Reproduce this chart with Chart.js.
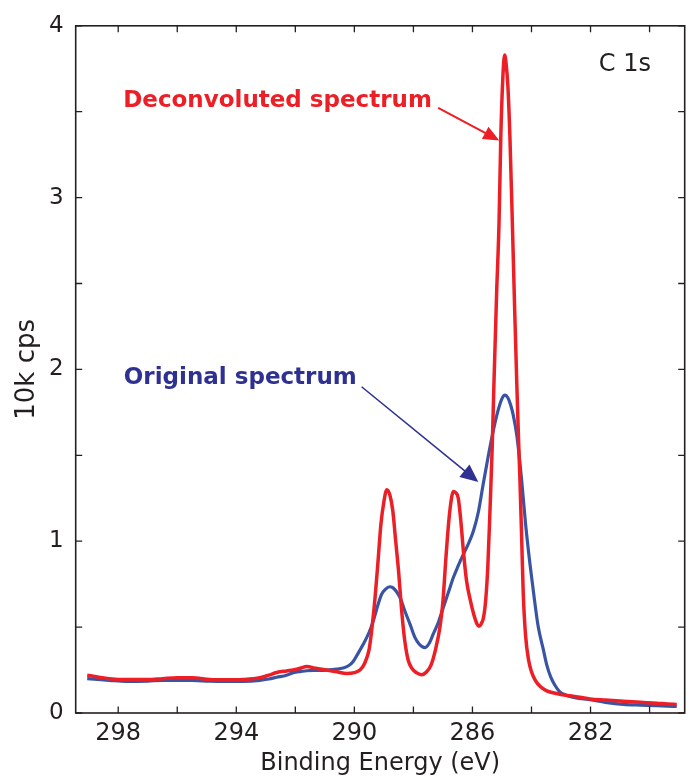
<!DOCTYPE html>
<html><head><meta charset="utf-8">
<script src="https://cdn.jsdelivr.net/npm/chart.js@4.4.1/dist/chart.umd.min.js"></script>
<style>html,body{margin:0;padding:0;background:#fff}#wrap{width:693px;height:780px}</style>
</head><body><div id="wrap"><canvas id="c" width="693" height="780"></canvas></div>
<script>
// ---- data (Binding energy in eV, intensity in 10k cps) ----
const deconvEnergy = [299.05,298.7,298.3,297.7,297.0,296.5,296.0,295.5,294.9,294.3,293.77,293.2,292.9,292.63,292.3,292.07,291.8,291.62,291.3,290.94,290.6,290.26,290.0,289.81,289.65,289.5,289.4,289.3,289.2,289.1,289.0,288.9,288.8,288.7,288.6,288.5,288.4,288.3,288.18,288.05,287.9,287.72,287.55,287.4,287.25,287.1,287.0,286.9,286.8,286.7,286.65,286.58,286.48,286.4,286.3,286.2,286.09,285.95,285.85,285.78,285.7,285.62,285.55,285.48,285.41,285.33,285.27,285.18,285.1,285.04,284.97,284.91,284.86,284.8,284.73,284.64,284.57,284.5,284.44,284.39,284.33,284.28,284.2,284.1,284.0,283.87,283.71,283.5,283.2,283.0,282.7,282.36,282.02,281.5,280.89,280.3,279.76,279.4,279.08];
const deconvCounts = [0.22,0.21,0.2,0.195,0.195,0.2,0.205,0.205,0.195,0.193,0.195,0.205,0.22,0.236,0.245,0.25,0.262,0.27,0.26,0.25,0.24,0.23,0.235,0.25,0.29,0.37,0.5,0.67,0.88,1.1,1.23,1.3,1.27,1.18,1.0,0.82,0.6,0.43,0.31,0.26,0.235,0.223,0.24,0.28,0.37,0.5,0.65,0.9,1.12,1.26,1.29,1.285,1.25,1.13,0.93,0.77,0.67,0.57,0.52,0.505,0.52,0.56,0.66,0.85,1.16,1.55,1.93,2.45,2.85,3.35,3.7,3.83,3.78,3.65,3.35,2.8,2.35,1.93,1.6,1.35,1.0,0.7,0.45,0.31,0.24,0.19,0.155,0.13,0.115,0.108,0.1,0.092,0.082,0.075,0.068,0.062,0.057,0.052,0.05];
const origEnergy = [299.05,298.7,298.3,297.72,297.0,296.5,296.02,295.5,294.9,294.3,293.77,293.2,292.9,292.63,292.3,292.07,291.8,291.62,291.3,290.94,290.6,290.38,290.2,290.04,289.9,289.7,289.5,289.36,289.2,289.08,288.95,288.8,288.7,288.57,288.45,288.29,288.1,287.95,287.8,287.61,287.45,287.33,287.15,286.99,286.8,286.65,286.5,286.31,286.15,285.97,285.8,285.64,285.47,285.3,285.15,285.0,284.9,284.8,284.7,284.62,284.5,284.4,284.33,284.2,284.05,283.9,283.77,283.6,283.49,283.35,283.2,283.05,282.85,282.6,282.3,282.02,281.5,280.89,280.3,279.76,279.4,279.08];
const origCounts = [0.2,0.195,0.19,0.184,0.186,0.19,0.19,0.19,0.185,0.184,0.184,0.19,0.198,0.208,0.22,0.235,0.242,0.246,0.248,0.25,0.255,0.262,0.275,0.3,0.34,0.4,0.47,0.536,0.63,0.69,0.72,0.735,0.73,0.706,0.67,0.594,0.51,0.44,0.4,0.38,0.41,0.459,0.53,0.613,0.71,0.787,0.85,0.923,0.98,1.058,1.17,1.329,1.49,1.638,1.75,1.83,1.85,1.835,1.79,1.735,1.62,1.47,1.348,1.1,0.865,0.66,0.5,0.37,0.285,0.21,0.16,0.125,0.105,0.092,0.083,0.077,0.062,0.05,0.046,0.043,0.04,0.038];

const xTickValues = [298,296,294,292,290,288,286,284,282,280];
const xLabelValues = [298,294,290,286,282];
const yTickValues = [0,0.5,1,1.5,2,2.5,3,3.5,4];
const yLabelValues = [0,1,2,3,4];

// annotation texts and anchor points (data units: eV, 10k cps)
const noteTexts  = ['Deconvoluted spectrum','Original spectrum','C 1s'];
const noteEnergy = [297.83, 297.81, 281.72];
const noteCounts = [3.53, 1.914, 3.735];
const arrowFromEnergy = [287.16, 289.755];
const arrowFromCounts = [3.522, 1.899];
const arrowToEnergy   = [285.09, 285.8];
const arrowToCounts   = [3.333, 1.344];

// ---- styles ----
const RED = '#ec1f27', BLUE_LINE = '#3a54a4', BLUE_TEXT = '#2e3192', INK = '#231f20';
const FONT = "'DejaVu Sans', 'Liberation Sans', Arial, sans-serif";

function pairs(xs, ys){ return xs.map((v,i)=>({x:v, y:ys[i]})); }

function drawArrow(ctx,x0,y0,x1,y1,color,lw,hl,hw){
  const dx=x1-x0, dy=y1-y0, L=Math.hypot(dx,dy), ux=dx/L, uy=dy/L;
  const bx=x1-ux*hl, by=y1-uy*hl;
  ctx.strokeStyle=color; ctx.lineWidth=lw; ctx.lineCap='butt';
  ctx.beginPath(); ctx.moveTo(x0,y0); ctx.lineTo(bx+ux*2,by+uy*2); ctx.stroke();
  ctx.fillStyle=color; ctx.beginPath();
  ctx.moveTo(x1,y1); ctx.lineTo(bx-uy*hw,by+ux*hw); ctx.lineTo(bx+uy*hw,by-ux*hw); ctx.closePath(); ctx.fill();
}

const decor = {
  id:'decor',
  afterDatasetsDraw(chart){
    const {ctx, chartArea:a, scales:{x,y}} = chart;
    const TL = 6.5;
    ctx.save();
    ctx.strokeStyle = INK; ctx.lineWidth = 1.3;
    ctx.beginPath();
    xTickValues.forEach(v=>{const px=x.getPixelForValue(v);
      ctx.moveTo(px,a.bottom); ctx.lineTo(px,a.bottom-TL);
      ctx.moveTo(px,a.top); ctx.lineTo(px,a.top+TL);});
    yTickValues.forEach(v=>{const py=y.getPixelForValue(v);
      ctx.moveTo(a.left,py); ctx.lineTo(a.left+TL,py);
      ctx.moveTo(a.right,py); ctx.lineTo(a.right-TL,py);});
    ctx.stroke();
    ctx.lineWidth = 1.6;
    ctx.strokeRect(a.left,a.top,a.right-a.left,a.bottom-a.top);

    // arrows
    const arrowColors=[RED,BLUE_TEXT], arrowLW=[2,1.6], headL=[16,18], headW=[7,8];
    arrowFromEnergy.forEach((e,i)=>{
      drawArrow(ctx, x.getPixelForValue(e), y.getPixelForValue(arrowFromCounts[i]),
        x.getPixelForValue(arrowToEnergy[i]), y.getPixelForValue(arrowToCounts[i]),
        arrowColors[i], arrowLW[i], headL[i], headW[i]);
    });
    // texts
    const noteColors=[RED,BLUE_TEXT,INK], noteFonts=['bold 23px '+FONT,'bold 23px '+FONT,'24px '+FONT];
    ctx.textBaseline='alphabetic'; ctx.textAlign='left';
    noteTexts.forEach((t,i)=>{
      ctx.fillStyle=noteColors[i]; ctx.font=noteFonts[i];
      ctx.fillText(t, x.getPixelForValue(noteEnergy[i]), y.getPixelForValue(noteCounts[i]));
    });
    ctx.restore();
  }
};

new Chart(document.getElementById('c'), {
  type:'scatter',
  data:{datasets:[
    {label:'Deconvoluted spectrum', data:pairs(deconvEnergy,deconvCounts), showLine:true,
     borderColor:RED, borderWidth:3.5, pointRadius:0, cubicInterpolationMode:'monotone', fill:false},
    {label:'Original spectrum', data:pairs(origEnergy,origCounts), showLine:true,
     borderColor:BLUE_LINE, borderWidth:3.2, pointRadius:0, cubicInterpolationMode:'monotone', fill:false}
  ]},
  options:{
    responsive:false, devicePixelRatio:1, animation:false,
    layout:{padding:{top:23,right:8.3,left:0,bottom:0}},
    plugins:{legend:{display:false}, tooltip:{enabled:false}},
    scales:{
      x:{type:'linear', reverse:true, min:278.81, max:299.44,
        afterBuildTicks:ax=>{ax.ticks=xTickValues.map(v=>({value:v}));},
        afterFit:s=>{s.height=67;},
        grid:{display:false, drawTicks:false}, border:{display:false},
        ticks:{autoSkip:false, maxRotation:0, padding:6, color:INK, font:{family:FONT,size:24},
          callback:v=>xLabelValues.includes(v)?String(v):''},
        title:{display:true, text:'Binding Energy (eV)', color:INK, font:{family:FONT,size:24}, padding:{top:0,bottom:2}}
      },
      y:{type:'linear', min:0, max:4,
        afterBuildTicks:ax=>{ax.ticks=yTickValues.map(v=>({value:v}));},
        afterFit:s=>{s.width=75.7;},
        grid:{display:false, drawTicks:false}, border:{display:false},
        ticks:{autoSkip:false, padding:12, color:INK, font:{family:FONT,size:23},
          callback:v=>yLabelValues.includes(v)?String(v):''},
        title:{display:true, text:'10k cps', color:INK, font:{family:FONT,size:26}, padding:{top:12,bottom:0}}
      }
    }
  },
  plugins:[decor]
});
</script></body></html>
